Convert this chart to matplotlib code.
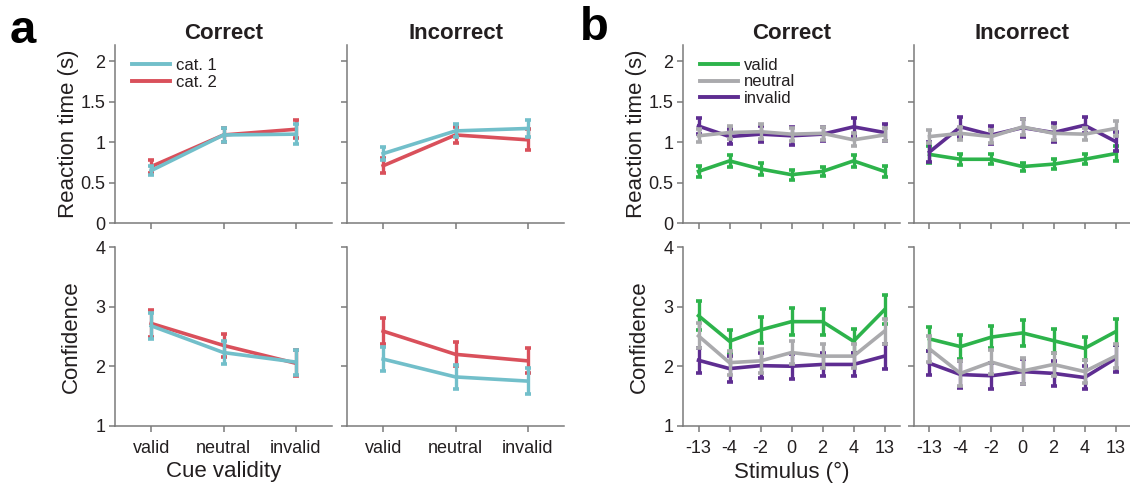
import numpy as np
import matplotlib
matplotlib.use("Agg")
import matplotlib.pyplot as plt
from matplotlib.lines import Line2D

plt.rcParams["font.family"] = ["Liberation Sans", "DejaVu Sans"]

# ---- panel a data: cue validity x category ----
cue_labels = ["valid", "neutral", "invalid"]
cat_names = ["cat. 1", "cat. 2"]

rt_cor_cat1 = [0.65, 1.09, 1.10]
rt_cor_cat1_err = [0.06, 0.09, 0.12]
rt_cor_cat2 = [0.70, 1.09, 1.16]
rt_cor_cat2_err = [0.08, 0.09, 0.11]
rt_inc_cat1 = [0.86, 1.14, 1.17]
rt_inc_cat1_err = [0.08, 0.08, 0.11]
rt_inc_cat2 = [0.71, 1.09, 1.03]
rt_inc_cat2_err = [0.09, 0.10, 0.13]

conf_cor_cat1 = [2.68, 2.23, 2.07]
conf_cor_cat1_err = [0.22, 0.20, 0.21]
conf_cor_cat2 = [2.72, 2.35, 2.05]
conf_cor_cat2_err = [0.22, 0.20, 0.22]
conf_inc_cat1 = [2.12, 1.82, 1.75]
conf_inc_cat1_err = [0.20, 0.20, 0.22]
conf_inc_cat2 = [2.59, 2.20, 2.09]
conf_inc_cat2_err = [0.22, 0.20, 0.21]

# ---- panel b data: stimulus x cue validity ----
stim_labels = ["-13", "-4", "-2", "0", "2", "4", "13"]
cond_names = ["valid", "neutral", "invalid"]

rt_cor_valid = [0.64, 0.77, 0.67, 0.60, 0.64, 0.77, 0.64]
rt_cor_neutral = [1.08, 1.12, 1.13, 1.10, 1.11, 1.03, 1.09]
rt_cor_invalid = [1.20, 1.07, 1.10, 1.08, 1.10, 1.19, 1.12]
rt_inc_valid = [0.85, 0.79, 0.79, 0.70, 0.73, 0.79, 0.86]
rt_inc_neutral = [1.07, 1.11, 1.07, 1.19, 1.11, 1.10, 1.17]
rt_inc_invalid = [0.88, 1.19, 1.09, 1.18, 1.12, 1.21, 1.01]
rt_cor_valid_err = [0.07, 0.07, 0.07, 0.06, 0.06, 0.07, 0.07]
rt_cor_neutral_err = [0.08, 0.08, 0.09, 0.08, 0.08, 0.08, 0.08]
rt_cor_invalid_err = [0.10, 0.09, 0.10, 0.11, 0.09, 0.11, 0.10]
rt_inc_valid_err = [0.10, 0.07, 0.06, 0.05, 0.06, 0.06, 0.09]
rt_inc_neutral_err = [0.08, 0.08, 0.08, 0.10, 0.08, 0.07, 0.09]
rt_inc_invalid_err = [0.12, 0.12, 0.11, 0.11, 0.12, 0.10, 0.12]

conf_cor_valid = [2.85, 2.42, 2.61, 2.75, 2.75, 2.42, 2.95]
conf_cor_neutral = [2.51, 2.06, 2.09, 2.23, 2.17, 2.17, 2.59]
conf_cor_invalid = [2.10, 1.96, 2.01, 2.00, 2.03, 2.03, 2.17]
conf_inc_valid = [2.46, 2.33, 2.49, 2.56, 2.43, 2.30, 2.58]
conf_inc_neutral = [2.29, 1.88, 2.07, 1.92, 2.03, 1.91, 2.17]
conf_inc_invalid = [2.05, 1.86, 1.84, 1.91, 1.88, 1.81, 2.13]
conf_cor_valid_err = [0.24, 0.19, 0.22, 0.23, 0.22, 0.20, 0.24]
conf_cor_neutral_err = [0.21, 0.20, 0.20, 0.20, 0.20, 0.20, 0.21]
conf_cor_invalid_err = [0.21, 0.22, 0.21, 0.21, 0.20, 0.20, 0.21]
conf_inc_valid_err = [0.20, 0.20, 0.19, 0.22, 0.20, 0.20, 0.22]
conf_inc_neutral_err = [0.22, 0.21, 0.20, 0.22, 0.20, 0.20, 0.20]
conf_inc_invalid_err = [0.20, 0.22, 0.22, 0.21, 0.21, 0.20, 0.22]

CAT_COLORS = ["#72BFCA", "#D9505B"]
COND_COLORS = {"valid": "#2DB34B", "neutral": "#AAAAAD", "invalid": "#5E2D91"}
SPINE = "#7a7a7a"
TEXT = "#231f20"

W, H = 1130, 488
fig = plt.figure(figsize=(W / 100, H / 100), dpi=100)


def add_ax(x0, x1, y0, y1):
    return fig.add_axes([x0 / W, 1 - y1 / H, (x1 - x0) / W, (y1 - y0) / H])


def style(ax, xlabels, ylim, yticks, ytl, show_x, show_y):
    for s in ["top", "right"]:
        ax.spines[s].set_visible(False)
    for s in ["left", "bottom"]:
        ax.spines[s].set_color(SPINE)
        ax.spines[s].set_linewidth(1.1)
    n = len(xlabels)
    ax.set_xlim(0.5, n + 0.5)
    ax.set_ylim(*ylim)
    ax.set_xticks(np.arange(1, n + 1))
    ax.set_yticks(yticks)
    ax.set_xticklabels(xlabels if show_x else [])
    ax.set_yticklabels(ytl if show_y else [])
    ax.tick_params(direction="out", length=4, width=1.1, color=SPINE,
                   labelsize=13, labelcolor=TEXT, pad=3)
    ax.tick_params(axis="x", pad=6)


def draw(ax, series, errs, colors):
    for i, (ys, es, c) in enumerate(zip(series, errs, colors)):
        x = np.arange(1, len(ys) + 1)
        ax.errorbar(x, ys, yerr=es, color=c, lw=2.6, elinewidth=2.4,
                    capsize=2.5, capthick=2.6, zorder=2 + i)


def legend(ax, names, colors, spacing):
    handles = [Line2D([], [], color=c, lw=2.8) for c in colors]
    leg = ax.legend(handles, names, loc="upper left", frameon=False,
                    fontsize=12, handlelength=2.3, handletextpad=0.35,
                    labelspacing=spacing, bbox_to_anchor=(0.04, 0.975),
                    borderaxespad=0.1)
    for t in leg.get_texts():
        t.set_color(TEXT)


rt_ticks = [0, 0.5, 1, 1.5, 2]
rt_tl = ["0", "0.5", "1", "1.5", "2"]
cf_ticks = [1, 2, 3, 4]
cf_tl = ["1", "2", "3", "4"]

top = (45, 223.3)
bot = (247.3, 425.7)
cols_a = [(115, 332), (347, 564)]
cols_b = [(683, 900), (914, 1131)]
titles = ["Correct", "Incorrect"]

# panel a
rt_a = [([rt_cor_cat2, rt_cor_cat1], [rt_cor_cat2_err, rt_cor_cat1_err]),
        ([rt_inc_cat2, rt_inc_cat1], [rt_inc_cat2_err, rt_inc_cat1_err])]
cf_a = [([conf_cor_cat2, conf_cor_cat1], [conf_cor_cat2_err, conf_cor_cat1_err]),
        ([conf_inc_cat2, conf_inc_cat1], [conf_inc_cat2_err, conf_inc_cat1_err])]

for j, (x0, x1) in enumerate(cols_a):
    ax = add_ax(x0, x1, *top)
    draw(ax, rt_a[j][0], rt_a[j][1], CAT_COLORS[::-1])
    style(ax, cue_labels, (0, 2.2), rt_ticks, rt_tl, False, j == 0)
    ax.set_title(titles[j], fontsize=16, fontweight="bold", color=TEXT, pad=4)
    if j == 0:
        ax.set_ylabel("Reaction time (s)", fontsize=16, color=TEXT, labelpad=1)
        legend(ax, cat_names, CAT_COLORS, 0.15)
    ax2 = add_ax(x0, x1, *bot)
    draw(ax2, cf_a[j][0], cf_a[j][1], CAT_COLORS[::-1])
    style(ax2, cue_labels, (1, 4), cf_ticks, cf_tl, True, j == 0)
    if j == 0:
        ax2.set_ylabel("Confidence", fontsize=16, color=TEXT, labelpad=10)
        ax2.set_xlabel("Cue validity", fontsize=16, color=TEXT)
        ax2.xaxis.set_label_coords(0.5, -0.2)

# panel b
rt_b = [([rt_cor_valid, rt_cor_invalid, rt_cor_neutral],
         [rt_cor_valid_err, rt_cor_invalid_err, rt_cor_neutral_err]),
        ([rt_inc_valid, rt_inc_invalid, rt_inc_neutral],
         [rt_inc_valid_err, rt_inc_invalid_err, rt_inc_neutral_err])]
cf_b = [([conf_cor_valid, conf_cor_invalid, conf_cor_neutral],
         [conf_cor_valid_err, conf_cor_invalid_err, conf_cor_neutral_err]),
        ([conf_inc_valid, conf_inc_invalid, conf_inc_neutral],
         [conf_inc_valid_err, conf_inc_invalid_err, conf_inc_neutral_err])]
order = ["valid", "invalid", "neutral"]
b_colors = [COND_COLORS[k] for k in order]

for j, (x0, x1) in enumerate(cols_b):
    ax = add_ax(x0, x1, *top)
    draw(ax, rt_b[j][0], rt_b[j][1], b_colors)
    style(ax, stim_labels, (0, 2.2), rt_ticks, rt_tl, False, j == 0)
    ax.set_title(titles[j], fontsize=16, fontweight="bold", color=TEXT, pad=4)
    if j == 0:
        ax.set_ylabel("Reaction time (s)", fontsize=16, color=TEXT, labelpad=1)
        legend(ax, cond_names, [COND_COLORS[k] for k in cond_names], 0.1)
    ax2 = add_ax(x0, x1, *bot)
    draw(ax2, cf_b[j][0], cf_b[j][1], b_colors)
    style(ax2, stim_labels, (1, 4), cf_ticks, cf_tl, True, j == 0)
    if j == 0:
        ax2.set_ylabel("Confidence", fontsize=16, color=TEXT, labelpad=10)
        ax2.set_xlabel("Stimulus (\u00b0)", fontsize=16, color=TEXT)
        ax2.xaxis.set_label_coords(0.5, -0.2)

fig.text(10 / W, 1 - 31 / H, "a", fontsize=34, fontweight="bold", color="black",
         va="center", ha="left")
fig.text(580 / W, 1 - 28 / H, "b", fontsize=34, fontweight="bold", color="black",
         va="center", ha="left")

fig.savefig("out.png", dpi=100)
